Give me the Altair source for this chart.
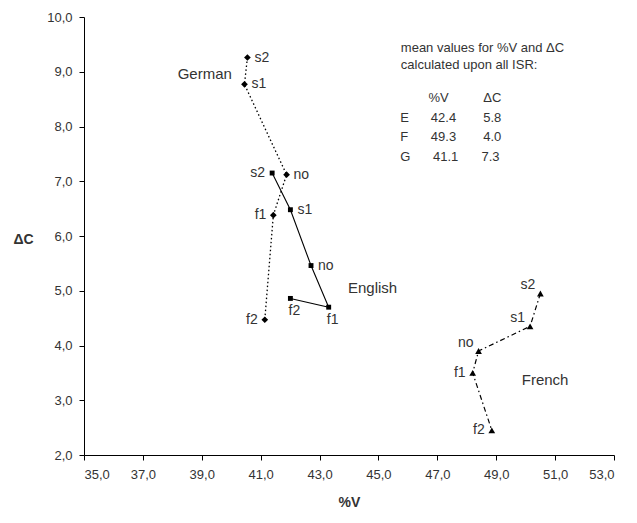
import altair as alt
import pandas as pd

# ---- data ----
point_names = ["s2", "s1", "no", "f1", "f2"]

german_v = [40.55, 40.45, 41.88, 41.43, 41.14]
german_c = [9.26, 8.77, 7.12, 6.38, 4.47]

english_v = [41.39, 42.01, 42.71, 43.31, 42.01]
english_c = [7.15, 6.48, 5.46, 4.70, 4.86]

french_v = [50.50, 50.15, 48.40, 48.20, 48.85]
french_c = [4.95, 4.35, 3.90, 3.50, 2.45]

series_names = ["German", "English", "French"]
series_label_v = [39.10, 44.80, 50.66]
series_label_c = [8.95, 5.05, 3.37]

note_lines = ["mean values for %V and \u0394C", "calculated upon all ISR:"]
table_header = ["%V", "\u0394C"]
table_rows = ["E", "F", "G"]
mean_v = ["42.4", "49.3", "41.1"]
mean_c = ["5.8", "4.0", "7.3"]

# label placement styles (R = right, L = left, B = below, UL = up-left)
german_place = ["R", "R", "R", "L", "L"]
english_place = ["L", "R", "R", "B", "B"]
french_place = ["UL", "UL", "UL", "L", "L"]

FONT = "Liberation Sans"


def series_df(name, v, c, place):
    return pd.DataFrame({
        "lang": name, "pt": point_names, "ord": list(range(len(point_names))),
        "v": v, "c": c, "place": place,
    })


german = series_df("German", german_v, german_c, german_place)
english = series_df("English", english_v, english_c, english_place)
french = series_df("French", french_v, french_c, french_place)
allpts = pd.concat([german, english, french], ignore_index=True)

fmt = "replace(format(datum.value, '.1f'), '.', ',')"

X = alt.X("v:Q", scale=alt.Scale(domain=[35, 53], nice=False, zero=False),
          axis=alt.Axis(values=list(range(35, 54, 2)), labelExpr=fmt, title="%V",
                        tickSize=5, labelPadding=8, titleY=47, titleBaseline="middle"))
Y = alt.Y("c:Q", scale=alt.Scale(domain=[2, 10], nice=False, zero=False),
          axis=alt.Axis(values=list(range(2, 11)), labelExpr=fmt, title="\u0394C",
                        tickSize=5, labelPadding=7, titleAngle=0, titleX=-61,
                        titleY=222, titleAlign="center", titleBaseline="middle"))


def enc(ch):
    return ch.encode(x=X, y=Y)


layers = []

# lines
layers.append(enc(alt.Chart(german).mark_line(color="black", strokeWidth=1.3,
                                               strokeDash=[1.5, 2.5])).encode(order="ord:Q"))
layers.append(enc(alt.Chart(english).mark_line(color="black", strokeWidth=1.1)).encode(order="ord:Q"))
layers.append(enc(alt.Chart(french).mark_line(color="black", strokeWidth=1.2,
                                               strokeDash=[5, 3, 1.5, 3])).encode(order="ord:Q"))

# markers
layers.append(enc(alt.Chart(german).mark_point(shape="diamond", filled=True, size=45,
                                                color="black", opacity=1)))
layers.append(enc(alt.Chart(english).mark_point(shape="square", filled=True, size=24,
                                                 color="black", opacity=1)))
layers.append(enc(alt.Chart(french).mark_point(shape="triangle-up", filled=True, size=45,
                                                color="black", opacity=1)))

# point labels
place_styles = {
    "R": dict(align="left", dx=7, dy=0),
    "L": dict(align="right", dx=-7, dy=0),
    "B": dict(align="center", dx=4, dy=13),
    "UL": dict(align="right", dx=-5, dy=-8),
}
for key, st in place_styles.items():
    layers.append(enc(alt.Chart(allpts).transform_filter(alt.datum.place == key)
                      .mark_text(font=FONT, fontSize=14, color="#333", baseline="middle", **st))
                  .encode(text="pt:N"))

# series labels
series_df_lbl = pd.DataFrame({"name": series_names, "v": series_label_v, "c": series_label_c})
layers.append(enc(alt.Chart(series_df_lbl).mark_text(font=FONT, fontSize=15, color="#333",
                                                      align="center", baseline="middle"))
              .encode(text="name:N"))

# annotation block
note_df = pd.DataFrame({"t": note_lines, "v": [45.76, 45.76], "c": [9.44, 9.13]})
hdr_df = pd.DataFrame({"t": table_header, "v": [46.70, 48.56], "c": [8.52, 8.52]})
rows_c = [8.16, 7.81, 7.45]
rowlbl_df = pd.DataFrame({"t": table_rows, "v": [45.74] * 3, "c": rows_c})
mv_df = pd.DataFrame({"t": mean_v, "v": [46.78, 46.78, 46.85], "c": rows_c})
mc_df = pd.DataFrame({"t": mean_c, "v": [48.56, 48.56, 48.50], "c": rows_c})
for d in [note_df, hdr_df, rowlbl_df, mv_df, mc_df]:
    layers.append(enc(alt.Chart(d).mark_text(font=FONT, fontSize=13, color="#333",
                                             align="left", baseline="middle"))
                  .encode(text="t:N"))

chart = alt.layer(*layers).properties(
    width=530, height=438,
    autosize=alt.AutoSizeParams(type="none"),
    padding={"left": 76, "top": 9, "right": 15, "bottom": 60},
).configure_view(strokeWidth=0).configure_axis(
    domainColor="black", tickColor="black", grid=False,
    labelFont=FONT, labelFontSize=13, labelColor="#333",
    titleFont=FONT, titleFontSize=14, titleFontWeight="bold", titleColor="#333",
)

chart.save("out.html", embed_options={"renderer": "svg", "actions": False})
